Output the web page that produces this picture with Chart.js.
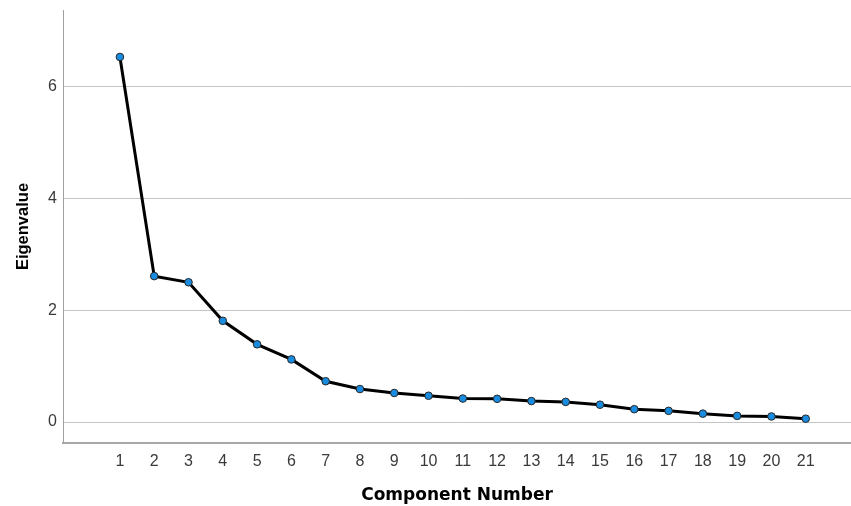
<!DOCTYPE html>
<html>
<head>
<meta charset="utf-8">
<script src="https://cdn.jsdelivr.net/npm/chart.js@4"></script>
<style>
  body { margin: 0; background: #fff; }
  #wrap { width: 851px; height: 506px; position: relative; }
</style>
</head>
<body>
<div id="wrap"><canvas id="screeChart"></canvas></div>
<script>
// component numbers and their eigenvalues
const components = [1, 2, 3, 4, 5, 6, 7, 8, 9, 10, 11, 12, 13, 14, 15, 16, 17, 18, 19, 20, 21];
const eigenvalues = [6.53, 2.61, 2.50, 1.81, 1.39, 1.12, 0.73, 0.59, 0.52, 0.47, 0.42, 0.415,
                     0.375, 0.36, 0.31, 0.23, 0.20, 0.15, 0.11, 0.10, 0.06];
const yTicks = [0, 2, 4, 6];

const points = components.map((c, i) => ({ x: c, y: eigenvalues[i] }));

const ctx = document.getElementById("screeChart").getContext("2d");
new Chart(ctx, {
  type: "line",
  data: {
    datasets: [{
      data: points,
      borderColor: "#000000",
      borderWidth: 3,
      pointRadius: 3.8,
      pointBackgroundColor: "#1a8ce0",
      pointBorderColor: "#262626",
      pointBorderWidth: 1,
      tension: 0,
      fill: false
    }]
  },
  options: {
    responsive: true,
    maintainAspectRatio: false,
    devicePixelRatio: 1,
    animation: false,
    layout: { autoPadding: false, padding: { top: 10, right: 0, left: 0, bottom: 0 } },
    plugins: {
      legend: { display: false },
      tooltip: { enabled: false }
    },
    scales: {
      x: {
        type: "linear",
        min: -0.66,
        max: 22.32,
        afterBuildTicks: (scale) => { scale.ticks = components.map(v => ({ value: v })); },
        afterFit: (scale) => {
          scale.height = 63;
          scale.paddingLeft = 0;
          scale.paddingRight = 0;
        },
        grid: { display: false, drawTicks: false },
        border: { display: true, color: "#a8a8a8", width: 2 },
        ticks: {
          padding: 9,
          autoSkip: false,
          maxRotation: 0,
          color: "#3a3a3a",
          font: { family: "Arial, 'Liberation Sans'", size: 16 }
        },
        title: {
          display: true,
          text: "Component Number",
          color: "#000000",
          padding: { top: 0, bottom: 0 },
          font: { family: "'DejaVu Sans'", size: 17, weight: "bold" }
        }
      },
      y: {
        type: "linear",
        min: -0.375,
        max: 7.37,
        afterBuildTicks: (scale) => { scale.ticks = yTicks.map(v => ({ value: v })); },
        afterFit: (scale) => {
          scale.width = 63;
          scale.paddingTop = 0;
          scale.paddingBottom = 0;
        },
        grid: { color: "#c4c4c4", lineWidth: 1, drawTicks: false },
        border: { display: true, color: "#a0a0a0", width: 1 },
        ticks: {
          padding: 6,
          color: "#3a3a3a",
          font: { family: "Arial, 'Liberation Sans'", size: 16 }
        },
        title: {
          display: true,
          text: "Eigenvalue",
          color: "#000000",
          padding: { top: 14, bottom: 0 },
          font: { family: "Arial, 'Liberation Sans'", size: 16.5, weight: "bold" }
        }
      }
    }
  }
});
</script>
</body>
</html>
